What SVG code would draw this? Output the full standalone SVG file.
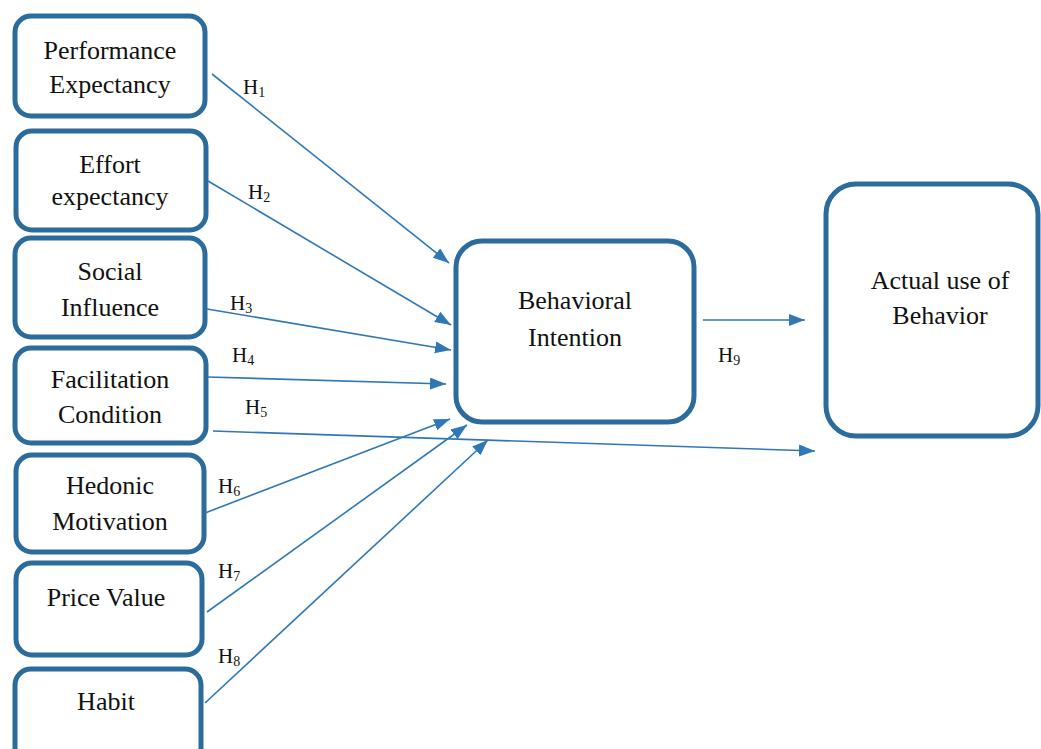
<svg xmlns="http://www.w3.org/2000/svg" width="1041" height="749" viewBox="0 0 1041 749">
<defs>
<style>
.box{fill:#fff;stroke:#2b6c9c;stroke-width:5}
.t{font-family:"Liberation Serif","Times New Roman","DejaVu Serif",serif;font-size:26px;fill:#111;text-anchor:middle}
.h{font-family:"Liberation Serif","Times New Roman","DejaVu Serif",serif;font-size:21px;fill:#111}
.s{font-size:14px}
.c{stroke:#2f78b5;stroke-width:1.6;fill:none;marker-end:url(#ah)}
</style>
<marker id="ah" markerUnits="userSpaceOnUse" markerWidth="18" markerHeight="14" refX="16" refY="6" orient="auto">
<path d="M0,0 L16,6 L0,12 Z" fill="#2f78b5"/>
</marker>
</defs>
<g id="n-performance"><rect class="box" x="15" y="16" width="190" height="100" rx="16"/><text class="t" x="110" y="59">Performance</text><text class="t" x="110" y="93">Expectancy</text></g>
<g id="n-effort"><rect class="box" x="16" y="131" width="190" height="99" rx="16"/><text class="t" x="110" y="173">Effort</text><text class="t" x="110" y="205">expectancy</text></g>
<g id="n-social"><rect class="box" x="15" y="238" width="190" height="99" rx="16"/><text class="t" x="110" y="280">Social</text><text class="t" x="110" y="316">Influence</text></g>
<g id="n-facilitation"><rect class="box" x="15" y="348" width="191" height="95" rx="16"/><text class="t" x="110" y="388">Facilitation</text><text class="t" x="110" y="423">Condition</text></g>
<g id="n-hedonic"><rect class="box" x="16" y="455" width="188" height="97" rx="16"/><text class="t" x="110" y="494">Hedonic</text><text class="t" x="110" y="530">Motivation</text></g>
<g id="n-price"><rect class="box" x="16" y="563" width="186" height="92" rx="16"/><text class="t" x="106" y="606">Price Value</text></g>
<g id="n-habit"><rect class="box" x="15" y="669" width="186" height="95" rx="16"/><text class="t" x="106" y="710">Habit</text></g>
<g id="n-behavioral"><rect class="box" x="456" y="241" width="238" height="181" rx="26"/><text class="t" x="575" y="309">Behavioral</text><text class="t" x="575" y="346">Intention</text></g>
<g id="n-actual"><rect class="box" x="826" y="184" width="212" height="252" rx="30"/><text class="t" x="940" y="289">Actual use of</text><text class="t" x="940" y="324">Behavior</text></g>
<g id="connectors">
<line class="c" x1="212" y1="74" x2="449" y2="263"/>
<line class="c" x1="208" y1="181" x2="451" y2="325"/>
<line class="c" x1="207" y1="309" x2="451" y2="350"/>
<line class="c" x1="208" y1="377" x2="446" y2="384"/>
<line class="c" x1="213" y1="431" x2="815" y2="451"/>
<line class="c" x1="205" y1="513" x2="450" y2="419"/>
<line class="c" x1="207" y1="612" x2="467" y2="425"/>
<line class="c" x1="205" y1="703" x2="488" y2="440"/>
<line class="c" x1="703" y1="320" x2="805" y2="320"/>
</g>
<g id="labels">
<text class="h" x="243" y="94">H<tspan class="s" dy="3">1</tspan></text>
<text class="h" x="248" y="199">H<tspan class="s" dy="3">2</tspan></text>
<text class="h" x="230" y="310">H<tspan class="s" dy="3">3</tspan></text>
<text class="h" x="232" y="362">H<tspan class="s" dy="3">4</tspan></text>
<text class="h" x="245" y="414">H<tspan class="s" dy="3">5</tspan></text>
<text class="h" x="218" y="493">H<tspan class="s" dy="3">6</tspan></text>
<text class="h" x="218" y="578">H<tspan class="s" dy="3">7</tspan></text>
<text class="h" x="218" y="663">H<tspan class="s" dy="3">8</tspan></text>
<text class="h" x="718" y="362">H<tspan class="s" dy="3">9</tspan></text>
</g>
</svg>
